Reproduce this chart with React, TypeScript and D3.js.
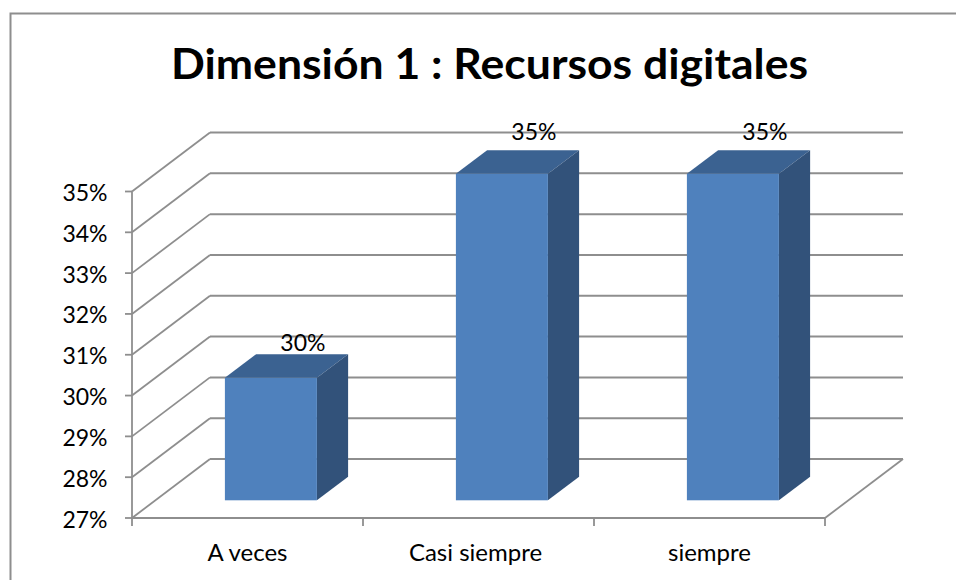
import React from "react";
import * as d3 from "d3";

const titleText = "Dimensión 1 : Recursos digitales";
const categories = ["A veces", "Casi siempre", "siempre"];
const seriesValues = [30, 35, 35];
const seriesLabels = ["30%", "35%", "35%"];
const yTicks = [27, 28, 29, 30, 31, 32, 33, 34, 35];

const W = 956, H = 580;
const FONT = "Lato, Carlito, 'Open Sans', sans-serif";
const GRID = "#8e8e8e";
const depthX = 78, depthY = -59;

const x = d3.scaleBand<string>().domain(categories).range([132, 825]).paddingInner(0).paddingOuter(0);
const y = d3.scaleLinear().domain([27, 35]).range([518, 191.5]);
const labelY = d3.scaleLinear().domain([30, 35]).range([351, 140]);

// bars sit 30% into the floor's depth and occupy 40% of it
const barInset = 0.3, barDepth = 0.4;
const barWidth = 92;

const pts = (p: [number, number][]) => p.map((q) => q.join(",")).join(" ");

export default function App() {
  const ox = depthX * barInset, oy = depthY * barInset;
  const bx = depthX * barDepth, by = depthY * barDepth;
  const right = x.range()[1];
  const left = x.range()[0];
  return (
    <svg width={W} height={H} viewBox={`0 0 ${W} ${H}`} style={{ position: "absolute", left: 0, top: 0, background: "#fff" }} fontFamily={FONT}>
      {/* chart frame */}
      <path d={`M10.5 ${H} V13.5 H${W}`} fill="none" stroke={GRID} strokeWidth={2} />
      <text x={489.5} y={78.5} textAnchor="middle" fontSize={42} fontWeight={700} fill="#000" textLength={637} lengthAdjust="spacingAndGlyphs">{titleText}</text>

      {/* gridlines on the side and back walls */}
      {yTicks.map((t) => (
        <g key={t}>
          <line x1={left} y1={y(t)} x2={left + depthX} y2={y(t) + depthY} stroke={GRID} strokeWidth={1.8} />
          <line x1={left + depthX} y1={y(t) + depthY} x2={right + depthX} y2={y(t) + depthY} stroke={GRID} strokeWidth={2} />
          <line x1={left - 7} y1={y(t)} x2={left} y2={y(t)} stroke={GRID} strokeWidth={1.8} />
          <text x={107.5} y={y(t) + 9.5} textAnchor="end" fontSize={23} fill="#000">{t}%</text>
        </g>
      ))}
      {/* floor and axes */}
      <line x1={left} y1={y(35)} x2={left} y2={y(27) + 8} stroke={GRID} strokeWidth={1.8} />
      <line x1={left} y1={y(27)} x2={right} y2={y(27)} stroke={GRID} strokeWidth={2} />
      <line x1={right} y1={y(27)} x2={right + depthX} y2={y(27) + depthY} stroke={GRID} strokeWidth={1.8} />
      {[...categories.map((c) => x(c)!), right].slice(1).map((t) => (
        <line key={t} x1={t} y1={y(27)} x2={t} y2={y(27) + 8} stroke={GRID} strokeWidth={1.8} />
      ))}

      {/* bars */}
      {categories.map((c, i) => {
        const x0 = x(c)! + (x.bandwidth() - barWidth) / 2 + ox;
        const x1 = x0 + barWidth;
        const yb = y(27) + oy;
        const yt = y(seriesValues[i]) + oy;
        return (
          <g key={c}>
            <polygon points={pts([[x0, yt], [x1, yt], [x1 + bx, yt + by], [x0 + bx, yt + by]])} fill="#3b6291" />
            <polygon points={pts([[x1, yt], [x1 + bx, yt + by], [x1 + bx, yb + by], [x1, yb]])} fill="#32527a" />
            <rect x={x0} y={yt} width={barWidth} height={yb - yt} fill="#4f81bd" />
            <text x={x0 + 78} y={labelY(seriesValues[i])} fontSize={23} textAnchor="middle" fill="#000">{seriesLabels[i]}</text>
          </g>
        );
      })}

      {/* category labels */}
      {categories.map((c) => (
        <text key={c} x={x(c)! + x.bandwidth() / 2 - (c === "Casi siempre" ? 3 : 0)} y={561} textAnchor="middle" fontSize={24} fill="#000">{c}</text>
      ))}
    </svg>
  );
}
